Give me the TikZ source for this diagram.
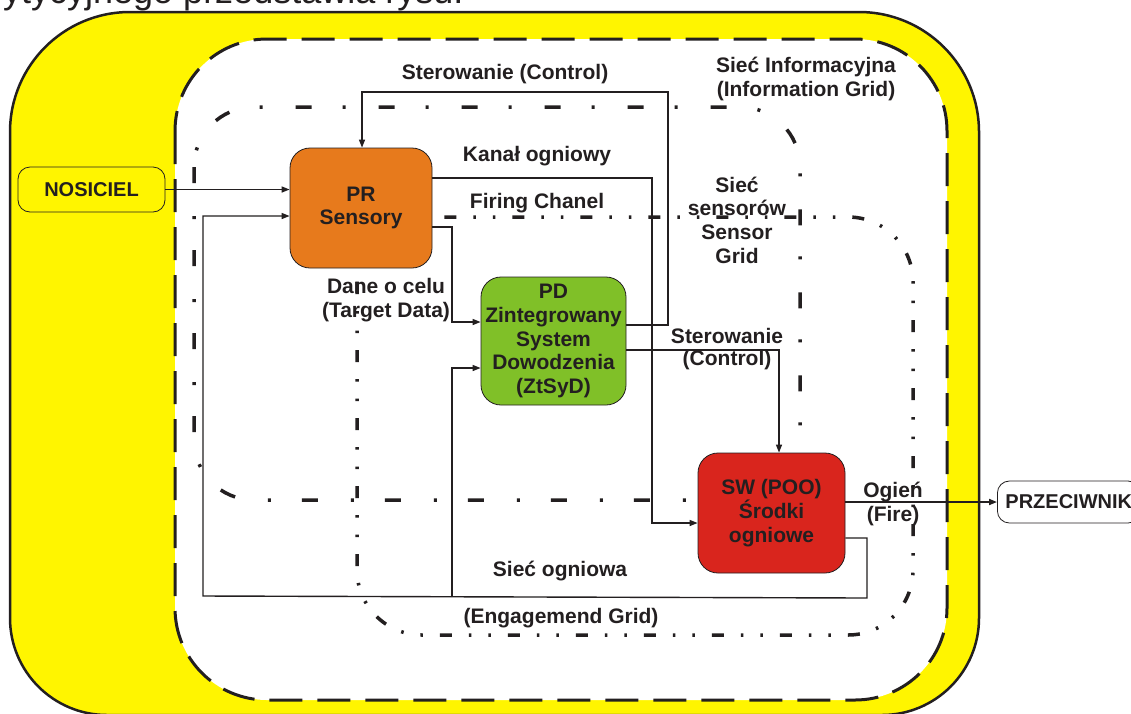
\documentclass[tikz,border=0pt]{standalone}
\usepackage{fontspec}
\setmainfont{Liberation Sans}
\usetikzlibrary{arrows.meta}
\definecolor{yel}{HTML}{FFF500}
\definecolor{orangec}{HTML}{E77A1C}
\definecolor{greenc}{HTML}{80C028}
\definecolor{redc}{HTML}{D9251D}
\definecolor{textc}{HTML}{231F20}
\begin{document}
\begin{tikzpicture}[x=1pt,y=-1pt,
  lblfont/.style={font=\fontsize{21}{23.7}\selectfont\bfseries},
  box/.style={draw=textc, line width=0.8pt, rounded corners=20pt, text=textc, lblfont, align=center, inner sep=0pt},
  endbox/.style={draw=textc, line width=0.8pt, rounded corners=12pt, text=textc, font=\fontsize{20}{23}\selectfont\bfseries, inner sep=0pt},
  lbl/.style={text=textc, lblfont, align=center, inner sep=0pt},
  line/.style={draw=textc, line width=1.4pt},
  arr/.style={line, -{Triangle[length=8pt,width=6pt]}},
  infogrid/.style={draw=textc, line width=3.5pt, dash pattern=on 16pt off 33pt on 3pt off 31pt, rounded corners=60pt},
  sensgrid/.style={draw=textc, line width=3.5pt, dash pattern=on 12pt off 17pt on 2.5pt off 17pt on 2.5pt off 17pt, rounded corners=65pt},
  whitebox/.style={draw=textc, fill=white, line width=3pt, dash pattern=on 33pt off 15pt, rounded corners=92pt}
]
\useasboundingbox (0,0) rectangle (1131,713);
\fill[white] (0,0) rectangle (1131,713);

% cut-off heading text
\node[anchor=base west, inner sep=0pt, text=textc, font=\fontsize{36}{40}\selectfont] (head) at (3,3) {ytycyjnego przedstawia rysu.};

% outer yellow area
\draw[fill=yel, draw=textc, line width=2.5pt]
  (10,132) .. controls (10,65.7) and (63.7,12) .. (130,12) -- (859,12)
  .. controls (925.3,12) and (979,65.7) .. (979,132) -- (979,618)
  .. controls (979,671.6) and (935.6,715) .. (882,715) -- (107,715)
  .. controls (53.4,715) and (10,671.6) .. (10,618) -- cycle;

% inner white area
\draw[whitebox] (175,39) rectangle (947,700);

% grids
\draw[infogrid] (194,107) rectangle (800,500);
\draw[sensgrid] (357,217) rectangle (913,635);

% boxes
\node[box, fill=orangec, minimum width=142pt, minimum height=120pt] (pr) at (361,208) {PR\\Sensory};
\node[box, fill=greenc, minimum width=145pt, minimum height=128pt] (pd) at (553.5,341) {PD\\Zintegrowany\\System\\Dowodzenia\\(ZtSyD)};
\node[box, fill=redc, minimum width=147pt, minimum height=120pt] (sw) at (771.5,513) {SW (POO)\\Środki\\ogniowe};
\node[endbox, minimum width=147pt, minimum height=45pt] (nos) at (91.5,189.5) {NOSICIEL};
\node[endbox, fill=white, anchor=west, minimum height=42pt, inner xsep=8pt] (prz) at (997,502) {PRZECIWNIK};

% helper coordinates
\coordinate (fb1) at (867,538);
\coordinate (fb2) at (867,598);
\coordinate (fb3) at (203,596);
\coordinate (fb4) at (203,216);
\coordinate (fb5) at (452,597);
\coordinate (fb6) at (452,368);
\coordinate (k1) at (652,178);
\coordinate (k2) at (652,523);
\coordinate (t1) at (452,227);
\coordinate (t2) at (452,322);
\coordinate (s1) at (668,325);
\coordinate (s2) at (668,92);
\coordinate (s3) at (362,92);
\coordinate (s4) at (779,350);

% connectors
\draw[arr] (nos.east) -- (nos.east -| pr.west);
\draw[arr] (sw.east |- fb1) -- (fb1) -- (fb2) -- (fb3) -- (fb4) -- (fb4 -| pr.west);
\draw[arr] (fb5) -- (fb6) -- (fb6 -| pd.west);
\draw[arr] (pr.east |- k1) -- (k1) -- (k2) -- (k2 -| sw.west);
\draw[arr] (pr.east |- t1) -- (t1) -- (t2) -- (t2 -| pd.west);
\draw[arr] (pd.east |- s1) -- (s1) -- (s2) -- (s3) -- (s3 |- pr.north);
\draw[arr] (pd.east |- s4) -- (s4) -- (s4 |- sw.north);
\draw[arr, line width=1.8pt] (sw.east |- prz.west) -- (prz.west);

% labels
\node[lbl] (l1) at (505,74) {Sterowanie (Control)};
\node[lbl] (l2) at (806,79) {Sieć Informacyjna\\(Information Grid)};
\node[lbl] (l3) at (537,156) {Kanał ogniowy};
\node[lbl] (l4) at (537,203) {Firing Chanel};
\node[lbl] (l5) at (737,220) {Sieć\\sensorów\\Sensor\\Grid};
\node[lbl] (l6) at (386,300) {Dane o celu\\(Target Data)};
\node[lbl, font=\fontsize{21}{22}\selectfont\bfseries] (l7) at (727,349) {Sterowanie\\(Control)};
\node[lbl] (l8) at (893,504) {Ogień\\(Fire)};
\node[lbl] (l9) at (560,571) {Sieć ogniowa};
\node[lbl] (l10) at (561,618) {(Engagemend Grid)};
\end{tikzpicture}
\end{document}
